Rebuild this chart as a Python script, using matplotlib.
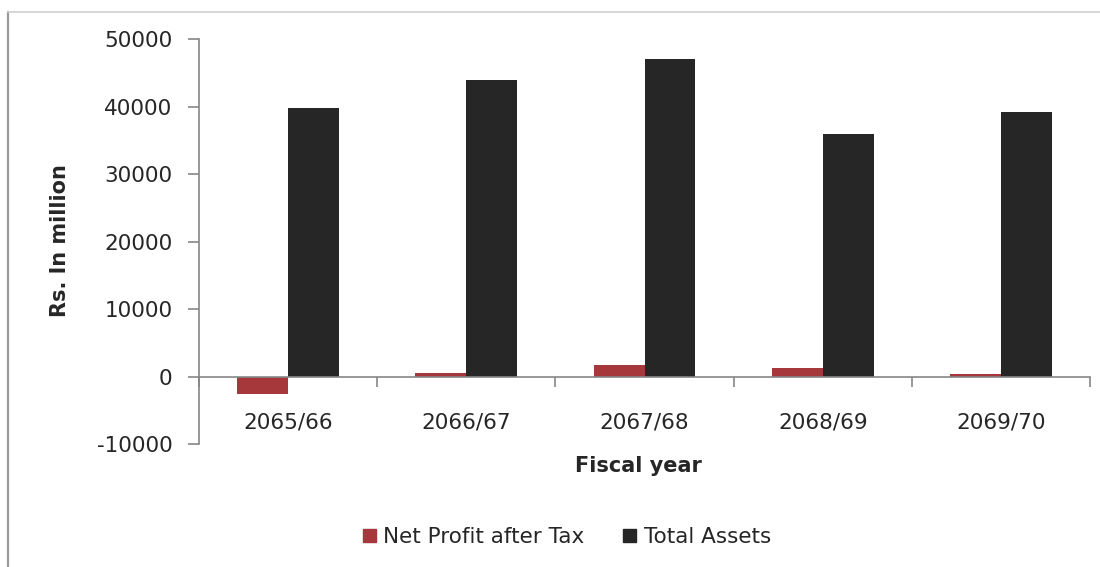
import numpy as np
import matplotlib
matplotlib.use("Agg")
import matplotlib.pyplot as plt
from matplotlib.lines import Line2D
from matplotlib.patches import Patch

# Fiscal years and figures in Rs. million
years = ['2065/66', '2066/67', '2067/68', '2068/69', '2069/70']
net_profit = [-2560, 600, 1650, 1250, 350]
total_assets = [39800, 44000, 47100, 36000, 39150]

plt.rcParams['font.family'] = ['DejaVu Sans']
plt.rcParams['axes.unicode_minus'] = False
axis_grey = '#868686'
text_col = '#262626'

fig = plt.figure(figsize=(11, 5.67), dpi=100)
ax = fig.add_axes([199 / 1100, 1 - 444 / 567, 891 / 1100, (444 - 39.3) / 567])

x = np.arange(len(years))
w = 1 / 3.5
ax.bar(x - w / 2, net_profit, w, color='#a6373b', label='Net Profit after Tax')
ax.bar(x + w / 2, total_assets, w, color='#262626', label='Total Assets')

ax.set_xlim(-0.5, len(years) - 0.5)
ax.set_ylim(-10000, 50000)
ax.set_yticks(range(-10000, 50001, 10000))

# axis lines: y on the left, x crossing at zero
for s in ['top', 'right']:
    ax.spines[s].set_visible(False)
ax.spines['bottom'].set_position(('data', 0))
ax.spines['left'].set_color(axis_grey)
ax.spines['bottom'].set_color(axis_grey)
ax.spines['left'].set_linewidth(1.2)
ax.spines['bottom'].set_linewidth(1.2)

ax.tick_params(axis='y', direction='out', length=8, width=1.2, color=axis_grey,
               labelsize=15.5, labelcolor=text_col, pad=11)
# category boundaries get tick marks, labels sit at the centres
ax.set_xticks(np.arange(len(years) + 1) - 0.5)
ax.set_xticklabels([])
ax.tick_params(axis='x', which='major', direction='out', length=7, width=1.2,
               color=axis_grey)
ax.set_xticks(x, minor=True)
ax.set_xticklabels(years, minor=True)
ax.tick_params(axis='x', which='minor', length=0, labelsize=15.5,
               labelcolor=text_col, pad=26)

fig.text(60 / 1100, 1 - 241 / 567, 'Rs. In million', rotation=90, ha='center',
         va='center', fontsize=15, fontweight='bold', color=text_col)
fig.text(638 / 1100, 1 - 466 / 567, 'Fiscal year', ha='center', va='center',
         fontsize=15, fontweight='bold', color=text_col)

handles = [Patch(color='#a6373b', label='Net Profit after Tax'),
           Patch(color='#262626', label='Total Assets')]
fig.legend(handles=handles, loc='center', bbox_to_anchor=(567 / 1100, 1 - 537 / 567),
           ncol=2, frameon=False, fontsize=15.5, handlelength=0.6, handleheight=0.6,
           handletextpad=0.35, columnspacing=1.8, labelcolor=text_col)

# chart area border along the top and left edges
fig.add_artist(Line2D([8 / 1100, 8 / 1100], [0, 1 - 12 / 567], transform=fig.transFigure,
                      color='#9a9a9a', lw=1.6))
fig.add_artist(Line2D([8 / 1100, 1], [1 - 12 / 567, 1 - 12 / 567], transform=fig.transFigure,
                      color='#d0d0d0', lw=1.2))

fig.savefig('out.png', dpi=100)
